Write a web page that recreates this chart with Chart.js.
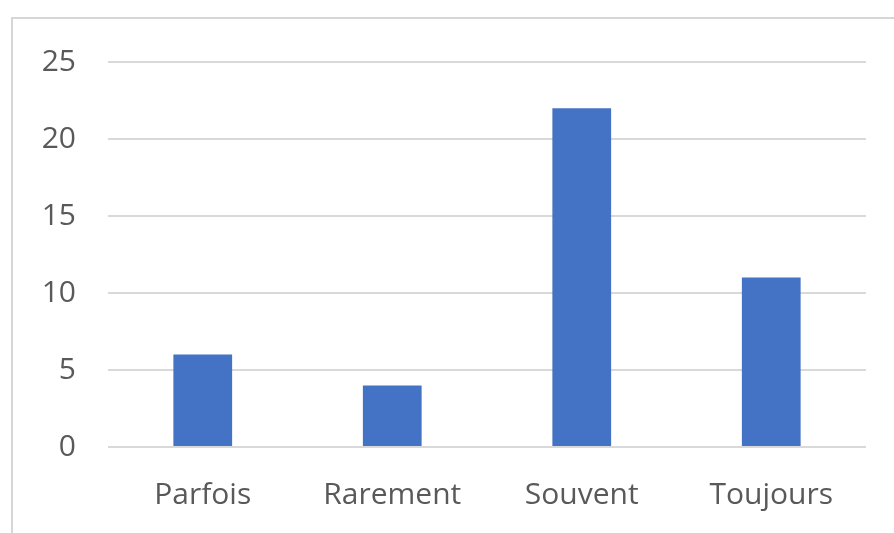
<!DOCTYPE html>
<html>
<head>
<meta charset="utf-8">
<script src="https://cdn.jsdelivr.net/npm/chart.js@4"></script>
<style>
  body { margin: 0; background: #fff; }
  #wrap { position: relative; width: 894px; height: 533px; }
  #frame { position: absolute; left: 11px; top: 17px; right: -10px; bottom: -10px;
           border-top: 2px solid #d6d6d6; border-left: 2px solid #d6d6d6; pointer-events: none; }
</style>
</head>
<body>
<div id="wrap">
  <canvas id="myChart" width="894" height="533"></canvas>
  <div id="frame"></div>
</div>
<script>
var labels = ['Parfois', 'Rarement', 'Souvent', 'Toujours']
var counts = [6, 4, 22, 11]

const data = {
  labels: labels,
  datasets: [{
    label: 'Réponses',
    backgroundColor: '#4472C4',
    data: counts,
    barPercentage: 0.31,
    categoryPercentage: 1
  }]
};
const config = {
  type: 'bar',
  data: data,
  options: {
    responsive: false,
    animation: false,
    layout: { padding: { top: 62, right: 28, left: 10, bottom: 0 } },
    plugins: {
      legend: { display: false },
      tooltip: { enabled: false }
    },
    scales: {
      x: {
        grid: { display: false, drawTicks: false },
        border: { display: false },
        ticks: {
          color: '#595959',
          font: { family: 'Open Sans', size: 30 },
          padding: 30
        },
        afterFit: function (s) { s.height = 86; }
      },
      y: {
        min: 0,
        max: 25,
        grid: { color: '#d9d9d9', lineWidth: 2, drawTicks: false },
        border: { display: false },
        ticks: {
          stepSize: 5,
          color: '#595959',
          font: { family: 'Open Sans', size: 30 },
          padding: 32
        },
        afterFit: function (s) { s.width = 98; }
      }
    }
  }
};
const myChart = new Chart(
  document.getElementById('myChart'),
  config
);
</script>
</body>
</html>
